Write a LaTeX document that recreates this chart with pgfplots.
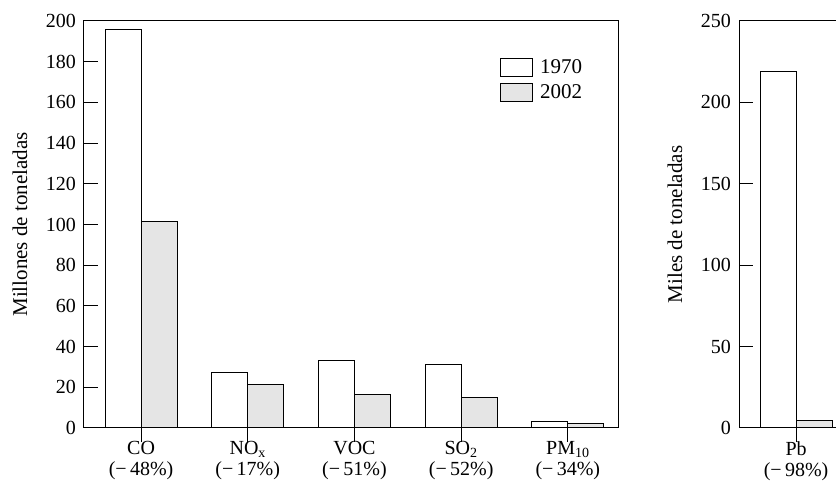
\documentclass[border=0pt]{standalone}
\usepackage{pgfplots}
\pgfplotsset{compat=1.18}
\usepackage{fontspec}
\setmainfont{Liberation Serif}
\pgfplotsset{
  mystyle/.style={
    scale only axis,
    anchor=south west,
    height=407pt,
    font=\fontsize{20}{22}\selectfont,
    ymin=0,
    xtick pos=bottom,
    ytick pos=left,
    tick align=inside,
    major tick length=14pt,
    tick style={line width=1pt, black},
    axis line style={line width=1pt, black},
    /pgf/number format/assume math mode=true,
    yticklabel style={inner sep=0pt, xshift=-8pt},
    xticklabel style={align=center, inner sep=0pt, yshift=1pt, font=\fontsize{20}{21.5}\selectfont},
    ybar, bar width=36pt,
    ylabel style={anchor=center, font=\fontsize{21}{25}\selectfont},
  },
  b70/.style={draw=black, fill=white, line width=1pt, bar shift=-18pt},
  b02/.style={draw=black, fill=black!10, line width=1pt, bar shift=18pt},
}
\begin{document}
\begin{tikzpicture}
\path[use as bounding box] (0pt,0pt) rectangle (836pt,481pt);
\begin{axis}[
  mystyle,
  at={(84pt,53pt)},
  width=534pt,
  xmin=-0.535, xmax=4.47,
  ymax=200,
  ytick={0,20,...,200},
  xtick={0,1,2,3,4},
  xticklabels={{CO\\(−\,48\%)},{NO\textsubscript{x}\\(−\,17\%)},{VOC\\(−\,51\%)},{SO\textsubscript{2}\\(−\,52\%)},{PM\textsubscript{10}\\(−\,34\%)}},
  ylabel={Millones de toneladas},
  ylabel style={at={(axis description cs:-0.12,0.5)}},
  legend style={draw=none, fill=none, at={(axis description cs:0.779,0.912)}, anchor=north west, inner sep=0pt, row sep=3pt, font=\fontsize{21}{25}\selectfont, nodes={inner xsep=7pt, inner ysep=3pt}},
  legend image code/.code={\draw[#1] (0pt,-9pt) rectangle (32pt,9pt);},
]
\addplot[b70] coordinates {(0,196) (1,27.3) (2,33.2) (3,31.3) (4,3.1)};
\addplot[b02] coordinates {(0,101.4) (1,21.6) (2,16.4) (3,15.1) (4,2.1)};
\legend{1970,2002}
\end{axis}
\begin{axis}[
  mystyle,
  at={(739pt,53pt)},
  width=110.4pt,
  xmin=-0.535, xmax=0.5,
  ymax=250,
  ytick={0,50,...,250},
  xtick={0},
  xticklabels={{Pb\\(−\,98\%)}},
  ylabel={Miles de toneladas},
  ylabel style={at={(axis description cs:-0.58,0.5)}},
]
\addplot[b70] coordinates {(0,219)};
\addplot[b02] coordinates {(0,4.5)};
\end{axis}
\end{tikzpicture}
\end{document}
